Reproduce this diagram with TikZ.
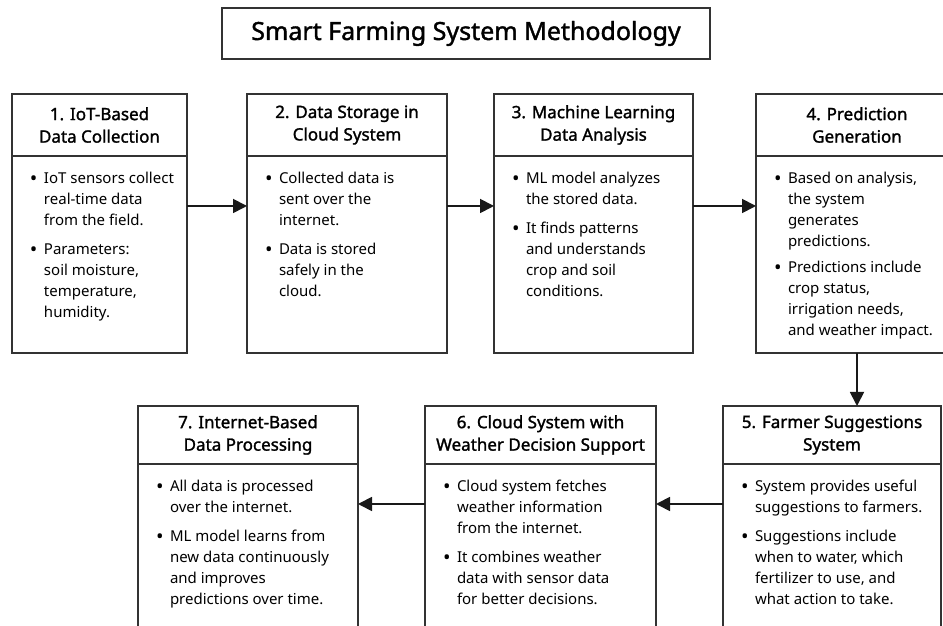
\documentclass[tikz,border=0pt]{standalone}
\usepackage{fontspec}
\setmainfont{Noto Sans}
\newfontfamily\headfont{Noto Sans}[FakeBold=1.5]
\usetikzlibrary{positioning}
\usetikzlibrary{arrows.meta}

% one bullet with hanging lines
\newcommand{\bitem}[1]{\par\hangindent=14pt\hangafter=1\noindent\makebox[14pt][l]{\raisebox{-2.5pt}{\fontsize{20}{20}\selectfont\textbullet}}#1\par}
\newcommand{\itemgap}{\vspace{8pt}}
% body text of a box: height, width, items
\newcommand{\bodytext}[3]{\parbox[t][#1][t]{#2}{\leftskip=18pt\fontsize{15}{21}\selectfont\vspace*{16pt}#3}}

\tikzset{
    frame/.style={draw=black!80, line width=1.3pt, outer sep=0pt},
    head/.style={frame, inner sep=0pt, align=center, font=\headfont\fontsize{17}{22.5}\selectfont},
    body/.style={frame, inner sep=0pt, below=0pt of #1},
    flow/.style={-{Triangle[length=14pt,width=14pt]}, line width=1.8pt, black!90},
}

\begin{document}
\begin{tikzpicture}[x=1pt, y=1pt]
    \useasboundingbox (0,0) rectangle (943,626);
    \clip (0,0) rectangle (943,626);
    \fill[white] (0,0) rectangle (943,626);

    \node[frame, minimum width=488pt, minimum height=51pt, font=\headfont\fontsize{25}{28}\selectfont] (title) at (466,592.5) {Smart Farming System Methodology};

    %% top row
    \node[head, minimum width=175pt, minimum height=62pt] (h1) at (99.5,501) {1. IoT-Based\\Data Collection};
    \node[body=h1] (b1) {\bodytext{197pt}{175pt}{%
        \bitem{IoT sensors collect\\real-time data\\from the field.}\itemgap
        \bitem{Parameters:\\soil moisture,\\temperature,\\humidity.}}};

    \node[head, minimum width=200pt, minimum height=62pt, right=60pt of h1] (h2) {2. Data Storage in\\Cloud System};
    \node[body=h2] (b2) {\bodytext{197pt}{200pt}{%
        \bitem{Collected data is\\sent over the\\internet.}\itemgap
        \bitem{Data is stored\\safely in the\\cloud.}}};

    \node[head, minimum width=199pt, minimum height=62pt, right=47pt of h2] (h3) {3. Machine Learning\\Data Analysis};
    \node[body=h3] (b3) {\bodytext{197pt}{199pt}{%
        \bitem{ML model analyzes\\the stored data.}\itemgap
        \bitem{It finds patterns\\and understands\\crop and soil\\conditions.}}};

    \node[head, minimum width=202pt, minimum height=62pt, right=63pt of h3] (h4) {4. Prediction\\Generation};
    \node[body=h4] (b4) {\bodytext{197pt}{202pt}{%
        \bitem{Based on analysis,\\the system\\generates\\predictions.}\vspace{5pt}
        \bitem{Predictions include\\crop status,\\irrigation needs,\\and weather impact.}}};

    %% bottom row, right to left
    \node[head, minimum width=218pt, minimum height=58pt] (h5) at (832,191) {5. Farmer Suggestions\\System};
    \node[body=h5] (b5) {\bodytext{180pt}{218pt}{%
        \bitem{System provides useful\\suggestions to farmers.}\itemgap
        \bitem{Suggestions include\\when to water, which\\fertilizer to use, and\\what action to take.}}};

    \node[head, minimum width=231pt, minimum height=58pt, left=67pt of h5] (h6) {6. Cloud System with\\Weather Decision Support};
    \node[body=h6] (b6) {\bodytext{180pt}{231pt}{%
        \bitem{Cloud system fetches\\weather information\\from the internet.}\itemgap
        \bitem{It combines weather\\data with sensor data\\for better decisions.}}};

    \node[head, minimum width=220pt, minimum height=58pt, left=67pt of h6] (h7) {7. Internet-Based\\Data Processing};
    \node[body=h7] (b7) {\bodytext{180pt}{220pt}{%
        \bitem{All data is processed\\over the internet.}\itemgap
        \bitem{ML model learns from\\new data continuously\\and improves\\predictions over time.}}};

    % arrows
    \draw[flow] ([yshift=-50pt]b1.north east) -- ([yshift=-50pt]b2.north west);
    \draw[flow] ([yshift=-50pt]b2.north east) -- ([yshift=-50pt]b3.north west);
    \draw[flow] ([yshift=-50pt]b3.north east) -- ([yshift=-50pt]b4.north west);
    \draw[flow] (b4.south) -- (b4.south |- h5.north);
    \draw[flow] ([yshift=-40pt]b5.north west) -- ([yshift=-40pt]b6.north east);
    \draw[flow] ([yshift=-40pt]b6.north west) -- ([yshift=-40pt]b7.north east);
\end{tikzpicture}
\end{document}
